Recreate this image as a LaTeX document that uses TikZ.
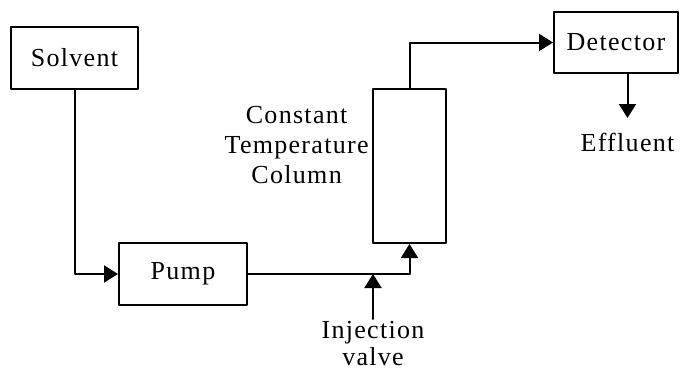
\documentclass[tikz,border=0pt]{standalone}
\usepackage{fontspec}
\setmainfont{Liberation Serif}[LetterSpace=5]
\usetikzlibrary{arrows.meta}

\begin{document}
\begin{tikzpicture}[
    x=0.5pt,
    y=-0.5pt,
    font=\fontsize{13}{15}\selectfont,
    line cap=round,
    line join=round,
    >={Triangle[length=7pt,width=8.5pt]},
    unit/.style={
      draw,
      line width=1pt,
      inner sep=0pt
    },
    label/.style={
      align=center,
      inner sep=1pt
    },
    flow/.style={
      ->,
      line width=1pt
    }
]

\useasboundingbox (0,0) rectangle (681,370);

% Process units.
\node[unit,minimum width=63.5pt,minimum height=31pt] (solvent) at (74.5,58) {Solvent};
\node[unit,minimum width=64pt,minimum height=31pt] (pump) at (183,274) {Pump};
\node[unit,minimum width=36.5pt,minimum height=77pt] (column) at (409.5,166) {};
\node[unit,minimum width=62pt,minimum height=30.5pt] (detector) at (616,42.5) {Detector};

% Free labels.
\node[label,anchor=east] (columnlabel) at (371,145)
  {Constant\\Temperature\\Column};
\node[label,anchor=north,font=\fontsize{13}{13.5}\selectfont] (injection)
  at (373,319) {Injection\\valve};
\node[label,anchor=north] (effluent) at (627.5,131) {Effluent};

% Flow path.
\draw[flow] (solvent) |- (pump);
\draw[flow] (pump) -| (column);
\coordinate (injpoint) at (injection.north |- pump.east);
\draw[flow] (injection) -- (injpoint);
\draw[flow,shorten >=6.5pt] (effluent.north |- detector.south) -- (effluent);
\draw[flow] (column) |- (detector);

\end{tikzpicture}
\end{document}
